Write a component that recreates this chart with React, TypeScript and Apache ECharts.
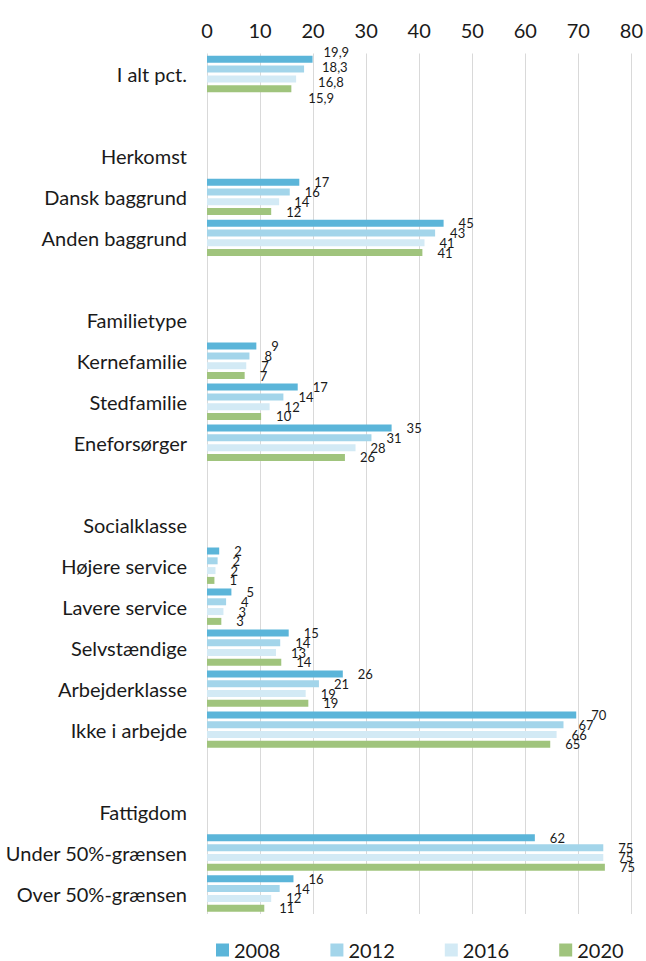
import React, { useEffect, useRef } from "react";
import * as echarts from "echarts";

const categories = [
  "I alt pct.",
  " ",
  "Herkomst",
  "Dansk baggrund",
  "Anden baggrund",
  "  ",
  "Familietype",
  "Kernefamilie",
  "Stedfamilie",
  "Eneforsørger",
  "   ",
  "Socialklasse",
  "Højere service",
  "Lavere service",
  "Selvstændige",
  "Arbejderklasse",
  "Ikke i arbejde",
  "    ",
  "Fattigdom",
  "Under 50%-grænsen",
  "Over 50%-grænsen",
];

const years = ["2008", "2012", "2016", "2020"];

const v2008 = [19.9, null, null, 17.4, 44.6, null, null, 9.3, 17.1, 34.8, null, null, 2.3, 4.6, 15.4, 25.6, 69.6, null, null, 61.8, 16.3];
const v2012 = [18.3, null, null, 15.6, 43.0, null, null, 8.0, 14.4, 31.0, null, null, 2.0, 3.6, 13.8, 21.1, 67.2, null, null, 74.7, 13.7];
const v2016 = [16.8, null, null, 13.6, 41.0, null, null, 7.4, 11.8, 28.0, null, null, 1.6, 3.1, 13.0, 18.6, 65.9, null, null, 74.7, 12.1];
const v2020 = [15.9, null, null, 12.1, 40.6, null, null, 7.1, 10.2, 26.0, null, null, 1.4, 2.7, 14.0, 19.1, 64.7, null, null, 75.0, 10.8];

const seriesValues = [v2008, v2012, v2016, v2020];
const colors = ["#5BB5D9", "#A3D5EA", "#D3EAF5", "#A0C47D"];
const firstRowOffsets = [[-4, -7], [3, -2], [7, 3], [2, 9]];

const FONT = "Lato, 'Open Sans', sans-serif";

export default function App() {
  const ref = useRef<HTMLDivElement>(null);
  useEffect(() => {
    document.body.style.margin = "0";
    if (!ref.current) return;
    const chart = echarts.init(ref.current, null, { renderer: "svg" });
    const series = years.map((y, si) => ({
      name: y,
      type: "bar",
      barWidth: 7,
      barGap: "40%",
      itemStyle: { color: colors[si] },
      data: seriesValues[si].map((v, i) =>
        i === 0
          ? { value: v, label: { offset: firstRowOffsets[si] } }
          : v
      ),
      label: {
        show: true,
        position: "right",
        distance: 15,
        fontFamily: FONT,
        fontSize: 13,
        color: "#1a1a1a",
        formatter: (p: any) => {
          if (p.value == null) return "";
          if (p.dataIndex === 0) return String(p.value.toFixed(1)).replace(".", ",");
          return String(Math.round(p.value));
        },
      },
    }));
    chart.setOption({
      animation: false,
      textStyle: { fontFamily: FONT },
      grid: { left: 207, right: 11, top: 53.5, bottom: 47, containLabel: false },
      xAxis: {
        type: "value",
        position: "top",
        min: 0,
        max: 80,
        interval: 10,
        axisLine: { show: false },
        axisTick: { show: false },
        axisLabel: { fontSize: 20, color: "#1a1a1a", margin: 14, fontFamily: FONT },
        splitLine: { show: true, lineStyle: { color: "#D9D9D9", width: 1 } },
      },
      yAxis: {
        type: "category",
        inverse: true,
        data: categories,
        axisLine: { show: false },
        axisTick: { show: false },
        axisLabel: { fontSize: 20, color: "#1a1a1a", margin: 20, fontFamily: FONT },
      },
      legend: {
        bottom: -4,
        left: 211,
        itemWidth: 13,
        itemHeight: 13,
        itemGap: 50,
        icon: "rect",
        textStyle: { fontSize: 20, color: "#1a1a1a", fontFamily: FONT },
        data: years,
      },
      series,
    });
    return () => chart.dispose();
  }, []);
  return <div ref={ref} style={{ width: 646, height: 961 }} />;
}
